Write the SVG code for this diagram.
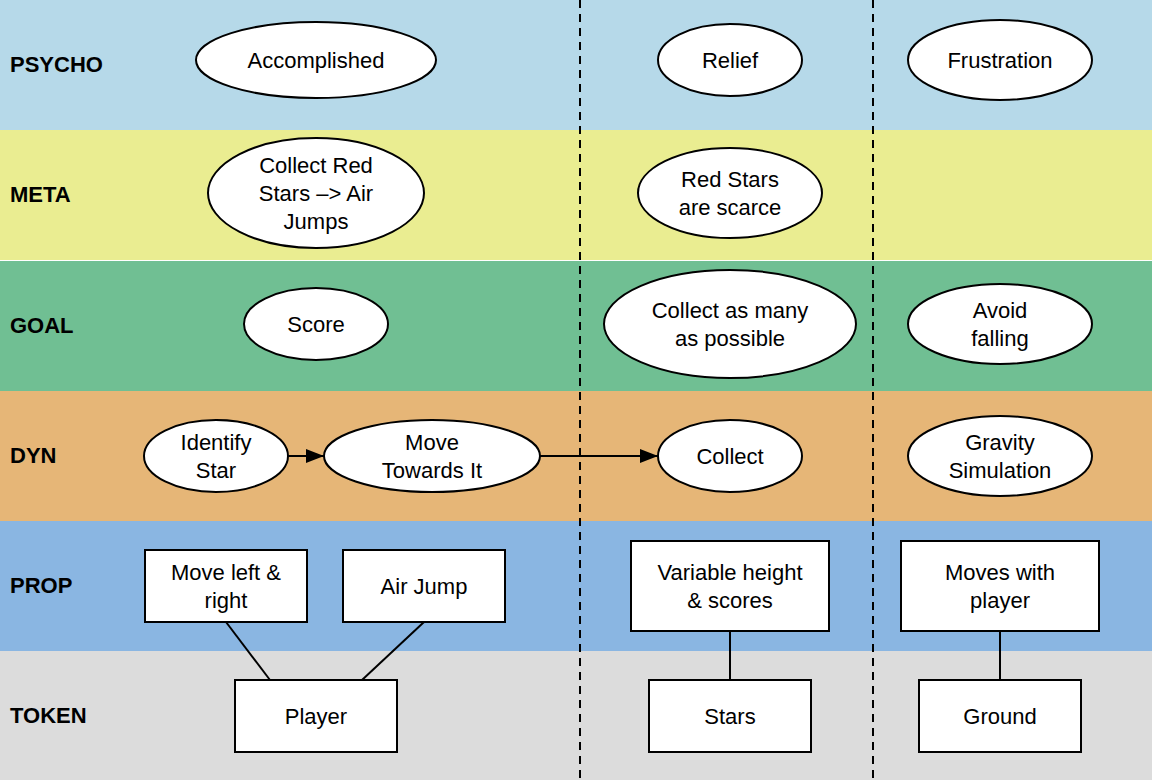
<svg xmlns="http://www.w3.org/2000/svg" width="1152" height="780" viewBox="0 0 1152 780">
<defs>
<style>
.lbl{font-family:"Liberation Sans",Arial,sans-serif;font-size:22px;font-weight:bold;fill:#000}
.t{font-family:"Liberation Sans",Arial,sans-serif;font-size:22px;fill:#000;text-anchor:middle}
.n{fill:#fff;stroke:#000;stroke-width:2}
.c{stroke:#000;stroke-width:2;fill:none}
.d{stroke:#000;stroke-width:2;stroke-dasharray:8 6;fill:none}
</style>
<marker id="arr" markerWidth="18" markerHeight="14" refX="18" refY="7" orient="auto" markerUnits="userSpaceOnUse" viewBox="0 0 18 14">
<path d="M0,0 L18,7 L0,14 Z" fill="#000"/>
</marker>
</defs>
<g id="bands">
<rect x="0" y="0" width="1152" height="130" fill="#b6d9e9"/>
<rect x="0" y="130" width="1152" height="130" fill="#eaed91"/>
<rect x="0" y="261" width="1152" height="130" fill="#70bf93"/>
<rect x="0" y="391" width="1152" height="130" fill="#e6b677"/>
<rect x="0" y="521" width="1152" height="130" fill="#8ab6e2"/>
<rect x="0" y="651" width="1152" height="129" fill="#dcdcdc"/>
<text class="lbl" x="10" y="72">PSYCHO</text>
<text class="lbl" x="10" y="202">META</text>
<text class="lbl" x="10" y="333">GOAL</text>
<text class="lbl" x="10" y="463">DYN</text>
<text class="lbl" x="10" y="593">PROP</text>
<text class="lbl" x="10" y="723">TOKEN</text>
</g>
<g id="dividers">
<line class="d" x1="580" y1="0" x2="580" y2="780"/>
<line class="d" x1="873" y1="0" x2="873" y2="780"/>
</g>
<g id="connectors">
<line class="c" x1="288" y1="456" x2="324" y2="456" marker-end="url(#arr)"/>
<line class="c" x1="540" y1="456" x2="658" y2="456" marker-end="url(#arr)"/>
<line class="c" x1="226" y1="622" x2="270" y2="680"/>
<line class="c" x1="424" y1="622" x2="362" y2="680"/>
<line class="c" x1="730" y1="631" x2="730" y2="680"/>
<line class="c" x1="1000" y1="631" x2="1000" y2="680"/>
</g>
<g id="accomplished"><ellipse class="n" cx="316" cy="60" rx="120" ry="38"/><text class="t" x="316" y="68">Accomplished</text></g>
<g id="relief"><ellipse class="n" cx="730" cy="60" rx="72" ry="36"/><text class="t" x="730" y="68">Relief</text></g>
<g id="frustration"><ellipse class="n" cx="1000" cy="60" rx="92" ry="40"/><text class="t" x="1000" y="68">Frustration</text></g>
<g id="collect-red"><ellipse class="n" cx="316" cy="193" rx="108" ry="55"/><text class="t" x="316" y="173">Collect Red</text><text class="t" x="316" y="201">Stars –&gt; Air</text><text class="t" x="316" y="229">Jumps</text></g>
<g id="scarce"><ellipse class="n" cx="730" cy="193" rx="92" ry="45"/><text class="t" x="730" y="187">Red Stars</text><text class="t" x="730" y="215">are scarce</text></g>
<g id="score"><ellipse class="n" cx="316" cy="324" rx="72" ry="36"/><text class="t" x="316" y="332">Score</text></g>
<g id="collect-many"><ellipse class="n" cx="730" cy="324" rx="126" ry="54"/><text class="t" x="730" y="318">Collect as many</text><text class="t" x="730" y="346">as possible</text></g>
<g id="avoid"><ellipse class="n" cx="1000" cy="324" rx="92" ry="40"/><text class="t" x="1000" y="318">Avoid</text><text class="t" x="1000" y="346">falling</text></g>
<g id="identify"><ellipse class="n" cx="216" cy="456" rx="72" ry="36"/><text class="t" x="216" y="450">Identify</text><text class="t" x="216" y="478">Star</text></g>
<g id="move-towards"><ellipse class="n" cx="432" cy="456" rx="108" ry="36"/><text class="t" x="432" y="450">Move</text><text class="t" x="432" y="478">Towards It</text></g>
<g id="collect"><ellipse class="n" cx="730" cy="456" rx="72" ry="36"/><text class="t" x="730" y="464">Collect</text></g>
<g id="gravity"><ellipse class="n" cx="1000" cy="456" rx="92" ry="40"/><text class="t" x="1000" y="450">Gravity</text><text class="t" x="1000" y="478">Simulation</text></g>
<g id="move-lr"><rect class="n" x="145" y="550" width="162" height="72"/><text class="t" x="226" y="580">Move left &amp;</text><text class="t" x="226" y="608">right</text></g>
<g id="air-jump"><rect class="n" x="343" y="550" width="162" height="72"/><text class="t" x="424" y="594">Air Jump</text></g>
<g id="variable"><rect class="n" x="631" y="541" width="198" height="90"/><text class="t" x="730" y="580">Variable height</text><text class="t" x="730" y="608">&amp; scores</text></g>
<g id="moves-with"><rect class="n" x="901" y="541" width="198" height="90"/><text class="t" x="1000" y="580">Moves with</text><text class="t" x="1000" y="608">player</text></g>
<g id="player"><rect class="n" x="235" y="680" width="162" height="72"/><text class="t" x="316" y="724">Player</text></g>
<g id="stars"><rect class="n" x="649" y="680" width="162" height="72"/><text class="t" x="730" y="724">Stars</text></g>
<g id="ground"><rect class="n" x="919" y="680" width="162" height="72"/><text class="t" x="1000" y="724">Ground</text></g>
</svg>
